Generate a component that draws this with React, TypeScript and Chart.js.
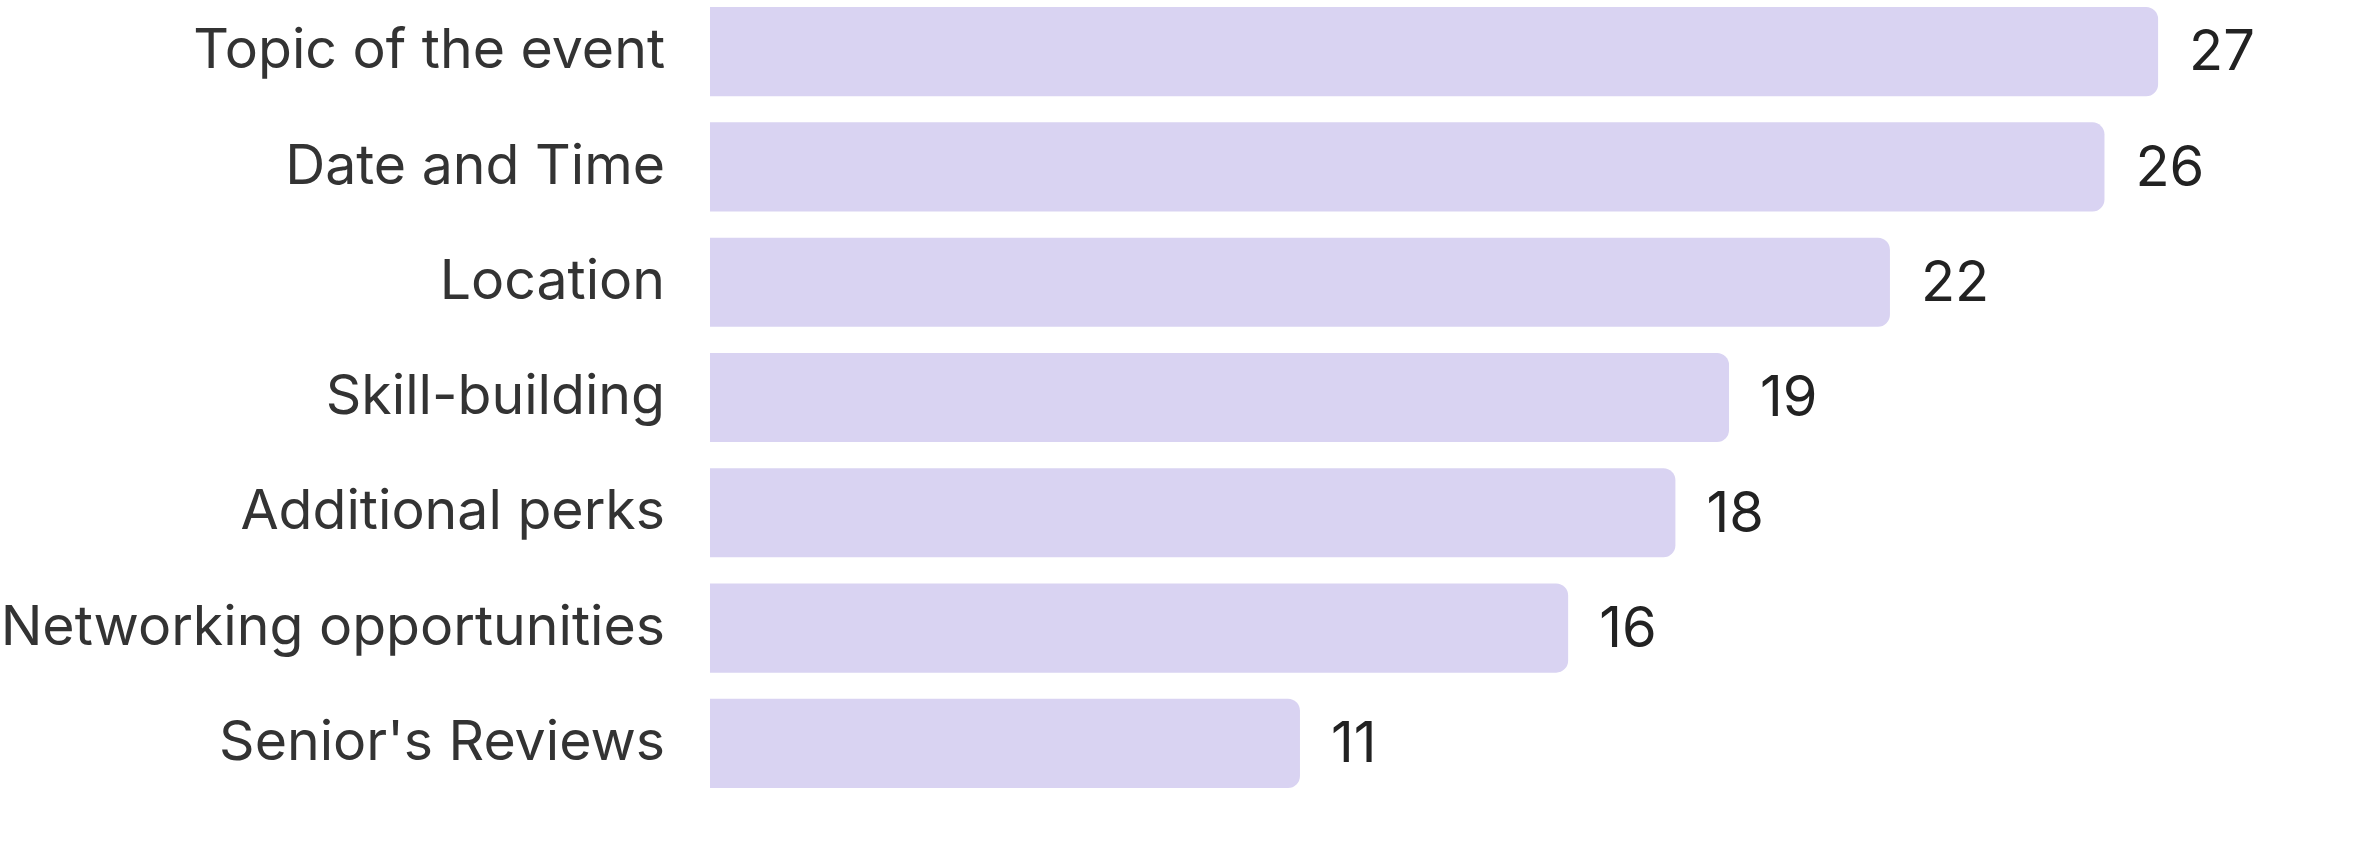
import React, { useEffect, useRef } from "react";
import { Chart, registerables } from "chart.js";

Chart.register(...registerables);

const categories = [
  "Topic of the event",
  "Date and Time",
  "Location",
  "Skill-building",
  "Additional perks",
  "Networking opportunities",
  "Senior's Reviews",
];
const counts = [27, 26, 22, 19, 18, 16, 11];
const axisMax = 30;

const valueLabelPlugin = {
  id: "valueLabels",
  afterDatasetsDraw(chart: any) {
    const ctx = chart.ctx;
    const meta = chart.getDatasetMeta(0);
    ctx.save();
    ctx.font = "56px Inter";
    ctx.fillStyle = "#222222";
    ctx.textAlign = "left";
    ctx.textBaseline = "middle";
    meta.data.forEach((bar: any, i: number) => {
      const v = chart.data.datasets[0].data[i];
      ctx.fillText(String(v), bar.x + 31, bar.y + 2);
    });
    ctx.restore();
  },
};

export default function App() {
  const ref = useRef<HTMLCanvasElement | null>(null);
  useEffect(() => {
    document.body.style.margin = "0";
    if (!ref.current) return;
    const chart = new Chart(ref.current, {
      type: "bar",
      data: {
        labels: categories,
        datasets: [
          {
            data: counts,
            backgroundColor: "#D9D3F2",
            borderRadius: 12,
            borderSkipped: "start",
            categoryPercentage: 1,
            barPercentage: 0.773,
          },
        ],
      },
      options: {
        indexAxis: "y",
        animation: false,
        responsive: false,
        maintainAspectRatio: false,
        layout: { padding: { left: 0, right: 49, top: 0, bottom: 43 } },
        plugins: {
          legend: { display: false },
          tooltip: { enabled: false },
        },
        scales: {
          x: {
            display: false,
            min: 0,
            max: axisMax,
          },
          y: {
            grid: { display: false },
            border: { display: false },
            ticks: {
              color: "#333333",
              font: { family: "Inter", size: 55.4 },
              padding: 37,
            },
            afterFit(scale: any) {
              scale.width = 710;
              scale.paddingTop = 0;
              scale.paddingBottom = 0;
            },
          },
        },
      },
      plugins: [valueLabelPlugin],
    });
    return () => chart.destroy();
  }, []);
  return (
    <div style={{ position: "absolute", left: 0, top: -6, width: 2368, height: 850 }}>
      <canvas ref={ref} width={2368} height={850} style={{ width: 2368, height: 850, display: "block" }} />
    </div>
  );
}
